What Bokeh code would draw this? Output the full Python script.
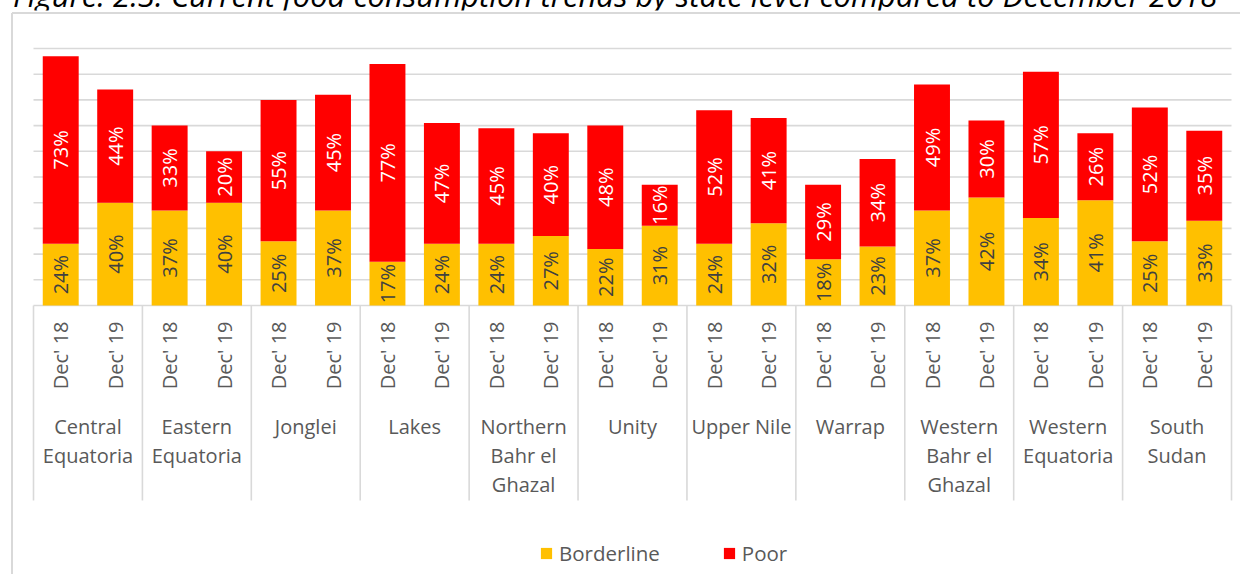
import numpy as np
from bokeh.plotting import figure
from bokeh.models import Range1d, Legend, LegendItem, ColumnDataSource, Div
from bokeh.layouts import column
from bokeh.embed import file_html
from bokeh.resources import INLINE
from bokeh.core.properties import value

# ---------------- data ----------------
title = "Figure: 2.3: Current food consumption trends by state level compared to December 2018"
states = ["Central\nEquatoria", "Eastern\nEquatoria", "Jonglei", "Lakes",
          "Northern\nBahr el\nGhazal", "Unity", "Upper Nile", "Warrap",
          "Western\nBahr el\nGhazal", "Western\nEquatoria", "South\nSudan"]
periods = ["Dec' 18", "Dec' 19"]
borderline = [24, 40, 37, 40, 25, 37, 17, 24, 24, 27, 22, 31, 24, 32, 18, 23, 37, 42, 34, 41, 25, 33]
poor = [73, 44, 33, 20, 55, 45, 77, 47, 45, 40, 48, 16, 52, 41, 29, 34, 49, 30, 57, 26, 52, 35]
grid_ticks = [10, 20, 30, 40, 50, 60, 70, 80, 90, 100]

# ---------------- layout (pixels, canvas coords) ----------------
W, H = 1232, 564
n = len(borderline)
PX_LEFT = 25.0            # canvas x of the first category boundary
KX = 1198.0 / n           # px per category
BASE = 295.0              # canvas y of the 0 % baseline
KY = 2.57                 # px per percent

x_start = -0.5 - PX_LEFT / KX
x_end = x_start + W / KX
y_end = BASE / KY
y_start = y_end - H / KY

def ydata(cy):
    return (BASE - cy) / KY

def xdata(cx):
    return x_start + cx / KX

FONT = value("Open Sans")
GRID_C = "#d9d9d9"
TXT_C = "#595959"

p = figure(width=W, height=H, output_backend="svg", toolbar_location=None,
           x_range=Range1d(x_start, x_end), y_range=Range1d(y_start, y_end),
           x_axis_location=None, y_axis_location=None, min_border=0,
           outline_line_color=None, background_fill_color="white",
           border_fill_color="white", margin=(0, 0, 0, 8))
p.grid.visible = False

idx = np.arange(n)
b = np.array(borderline, dtype=float)
q = np.array(poor, dtype=float)

# chart border (top + left)
p.segment(x0=[xdata(3.5), xdata(3.5)], y0=[ydata(2.5), ydata(2.5)],
          x1=[xdata(3.5), x_end + 1], y1=[y_start - 1, ydata(2.5)],
          line_color=GRID_C, line_width=2)

# gridlines
p.segment(x0=[-0.5] * len(grid_ticks), x1=[n - 0.5] * len(grid_ticks),
          y0=grid_ticks, y1=grid_ticks, line_color=GRID_C, line_width=1.6)
# baseline
p.segment(x0=[-0.5], x1=[n - 0.5], y0=[0], y1=[0], line_color=GRID_C, line_width=1.6)

# group separators
seps = np.arange(0, n + 1, 2) - 0.5
p.segment(x0=seps, x1=seps, y0=[0] * len(seps), y1=[ydata(490)] * len(seps),
          line_color=GRID_C, line_width=1.6)

src = ColumnDataSource(dict(x=idx, b=b, top=b + q, bmid=b / 2, pmid=b + q / 2,
                            bl=[f"{v:.0f}%" for v in b], pl=[f"{v:.0f}%" for v in q],
                            per=[periods[i % 2] for i in idx]))

r1 = p.vbar(x="x", bottom=0, top="b", width=0.66, source=src,
            fill_color="#FFC000", line_color=None)
r2 = p.vbar(x="x", bottom="b", top="top", width=0.66, source=src,
            fill_color="#FF0000", line_color=None)

# data labels
p.text(x="x", y="bmid", text="bl", source=src, angle=np.pi / 2,
       text_align="center", text_baseline="middle", text_font=FONT,
       text_font_size="20px", text_color="#404040")
p.text(x="x", y="pmid", text="pl", source=src, angle=np.pi / 2,
       text_align="center", text_baseline="middle", text_font=FONT,
       text_font_size="20px", text_color="white")

# period tick labels
p.text(x="x", y=ydata(311), text="per", source=src, angle=np.pi / 2,
       text_align="right", text_baseline="middle", text_font=FONT,
       text_font_size="20px", text_color=TXT_C)

# state labels
gx = np.arange(len(states)) * 2 + 0.5
p.text(x=gx, y=[ydata(402)] * len(states), text=states,
       text_align="center", text_baseline="top", text_font=FONT,
       text_font_size="20px", text_color=TXT_C, text_line_height=1.08)

legend = Legend(items=[LegendItem(label="Borderline", renderers=[r1]),
                       LegendItem(label="Poor", renderers=[r2])],
                orientation="horizontal", location=(531, 7),
                glyph_width=14, glyph_height=14, label_standoff=6, spacing=62,
                padding=0, margin=0, border_line_color=None,
                background_fill_alpha=0, label_text_font="Open Sans",
                label_text_font_size="20.5px", label_text_color=TXT_C)
p.add_layout(legend)

div = Div(text=('<div style="font-family:\'Open Sans\';font-style:italic;'
                'font-size:31px;line-height:30px;white-space:nowrap;color:#000;'
                f'padding-left:5px">{title}</div>'),
          width=W, height=30, margin=(-20, 0, 0, 8))

layout = column(div, p)
open("out.html", "w").write(file_html(layout, INLINE))
